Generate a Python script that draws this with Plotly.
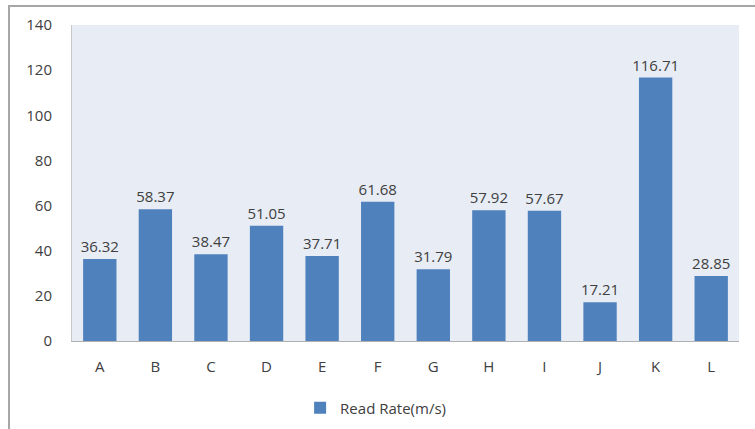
import plotly.graph_objects as go

categories = ["A", "B", "C", "D", "E", "F", "G", "H", "I", "J", "K", "L"]
read_rate = [36.32, 58.37, 38.47, 51.05, 37.71, 61.68, 31.79, 57.92, 57.67, 17.21, 116.71, 28.85]
y_ticks = [0, 20, 40, 60, 80, 100, 120, 140]

W, H = 755, 429
L, R, T, B = 72, 16, 25, 88
pw = W - L - R
ph = H - T - B

fig = go.Figure()
fig.add_trace(go.Bar(
    x=categories, y=read_rate, name="Read Rate(m/s)",
    marker=dict(color="#4f81bd", line=dict(width=0)),
    text=[f"{v:.2f}" for v in read_rate], textposition="outside",
    constraintext="none",
    textfont=dict(size=15, color="#404040", family="Open Sans"),
    cliponaxis=False,
))

fig.update_layout(
    width=W, height=H,
    margin=dict(l=L, r=R, t=T, b=B, autoexpand=False),
    paper_bgcolor="white",
    plot_bgcolor="#e7ecf5",
    bargap=0.4,
    font=dict(family="Open Sans", size=15, color="#404040"),
    showlegend=True,
    legend=dict(orientation="h", x=0.342, xanchor="left",
                yref="container", y=(H - 408) / H, yanchor="middle",
                font=dict(size=15, color="#404040"), bgcolor="rgba(0,0,0,0)"),
    xaxis=dict(showgrid=False, showline=True, linecolor="#b0b0b0", linewidth=1,
               ticks="", ticklabelstandoff=12, tickfont=dict(size=15)),
    yaxis=dict(range=[0, 140], tickvals=y_ticks, showgrid=False, zeroline=False,
               showline=True, linecolor="#c8c8c8", linewidth=1, ticks="",
               ticklabelstandoff=16, tickfont=dict(size=15)),
)

fig.add_shape(type="rect", xref="paper", yref="paper",
              x0=(9 - L) / pw, x1=(W + 20 - L) / pw,
              y0=(H - B - (H + 20)) / ph, y1=(H - B - 6) / ph,
              line=dict(color="#a6a6a6", width=2), fillcolor="rgba(0,0,0,0)", layer="below")

fig.write_html("out.html", config={"displayModeBar": False},
               post_script="document.body.style.margin='0';")
